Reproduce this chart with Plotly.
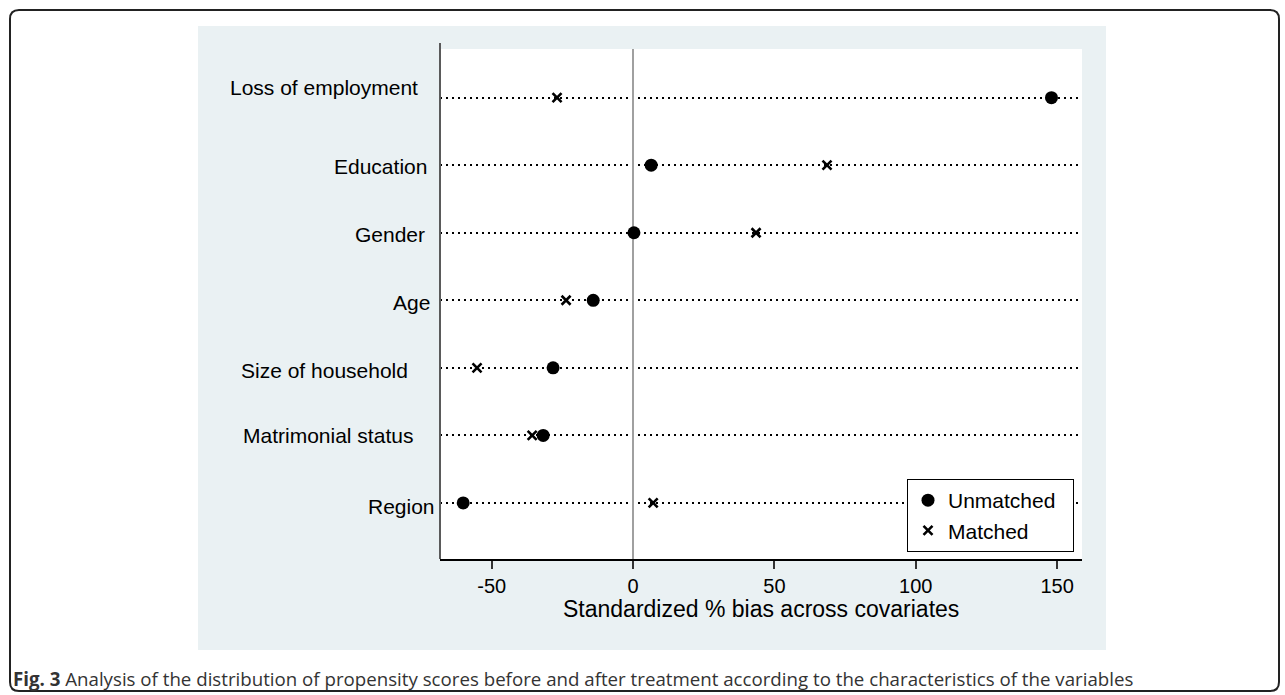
import plotly.graph_objects as go

# Covariates, listed top to bottom
covariates = [
    "Loss of employment",
    "Education",
    "Gender",
    "Age",
    "Size of household",
    "Matrimonial status",
    "Region",
]
# Standardized % bias before matching
unmatched = [148.0, 6.4, 0.3, -14.1, -28.3, -31.8, -60.1]
# Standardized % bias after matching
matched = [-26.9, 68.6, 43.5, -23.7, -55.2, -35.7, 7.1]

x_ticks = [-50, 0, 50, 100, 150]
x_tick_labels = [str(v) for v in x_ticks]
x_title = "Standardized % bias across covariates"
caption_bold = "Fig. 3"
caption_text = (" Analysis of the distribution of propensity scores before and after "
                "treatment according to the characteristics of the variables")

# Page geometry in pixels
W, H = 1285, 695
PL, PR, PT, PB = 440, 1082, 49, 559   # plot area edges
PW, PH = PR - PL, PB - PT


def px(xp):
    return (xp - PL) / PW


def py(yp):
    return (PB - yp) / PH


# Per-label nudges (x: right edge gap from the axis, y: vertical shift) in px
label_nudge = [(-20, 10), (-11, -1), (-13, -2), (-8, -2), (-30, -3), (-25, 0), (-3, -4)]

n = len(covariates)
ypos = [n - 1 - i for i in range(n)]

FONT = "Liberation Sans, Arial, Helvetica, sans-serif"

fig = go.Figure()
fig.add_trace(go.Scatter(
    x=unmatched, y=ypos, mode="markers", name="Unmatched\u00a0\u00a0",
    marker=dict(symbol="circle", size=13, color="black"),
    cliponaxis=False,
))
fig.add_trace(go.Scatter(
    x=matched, y=ypos, mode="markers", name="Matched",
    marker=dict(symbol="x-thin-open", size=9, color="black",
                line=dict(color="black", width=2.6)),
    cliponaxis=False,
))

shapes = []
# Rounded outer frame
r = 9
x0, x1, y0, y1 = 10, 1279, 10, 691
path = (
    f"M {px(x0 + r)} {py(y0)} L {px(x1 - r)} {py(y0)} "
    f"Q {px(x1)} {py(y0)} {px(x1)} {py(y0 + r)} L {px(x1)} {py(y1 - r)} "
    f"Q {px(x1)} {py(y1)} {px(x1 - r)} {py(y1)} L {px(x0 + r)} {py(y1)} "
    f"Q {px(x0)} {py(y1)} {px(x0)} {py(y1 - r)} L {px(x0)} {py(y0 + r)} "
    f"Q {px(x0)} {py(y0)} {px(x0 + r)} {py(y0)} Z"
)
shapes.append(dict(type="path", path=path, xref="paper", yref="paper",
                   line=dict(color="#222222", width=2), layer="below"))
# Graph region background
shapes.append(dict(type="rect", xref="paper", yref="paper",
                   x0=px(198), x1=px(1106), y0=py(650), y1=py(26),
                   fillcolor="#EAF1F3", line=dict(width=0), layer="below"))
# Plot region
shapes.append(dict(type="rect", xref="paper", yref="paper",
                   x0=px(PL), x1=px(PR), y0=py(PB), y1=py(PT),
                   fillcolor="white", line=dict(width=0), layer="below"))
# Left axis line (extends slightly above plot region)
shapes.append(dict(type="line", xref="paper", yref="paper",
                   x0=px(PL), x1=px(PL), y0=py(PB), y1=py(43),
                   line=dict(color="#5a5a5a", width=2), layer="above"))

annotations = [
    dict(text=x_title, xref="paper", yref="paper", x=0.5, y=py(609),
         xanchor="center", yanchor="middle", showarrow=False,
         font=dict(family=FONT, size=23, color="black")),
    dict(text=f"<b>{caption_bold}</b>{caption_text}", xref="paper", yref="paper",
         x=px(11), y=py(678), xanchor="left", yanchor="middle", showarrow=False,
         font=dict(family="Open Sans, sans-serif", size=18.7, color="#333333")),
]
# Covariate labels beside the axis
for name, yv, (dx, dy) in zip(covariates, ypos, label_nudge):
    annotations.append(dict(
        text=name, xref="paper", yref="y", x=0, y=yv,
        xanchor="right", yanchor="middle", xshift=dx, yshift=dy,
        showarrow=False, font=dict(family=FONT, size=21, color="black"),
    ))

fig.update_layout(
    width=W, height=H,
    margin=dict(l=PL, r=W - PR, t=PT, b=H - PB, autoexpand=False),
    paper_bgcolor="white",
    plot_bgcolor="rgba(0,0,0,0)",
    font=dict(family=FONT, size=20, color="black"),
    shapes=shapes,
    annotations=annotations,
    showlegend=True,
    legend=dict(
        x=px(907), y=py(552), xanchor="left", yanchor="bottom",
        bgcolor="white", bordercolor="black", borderwidth=1,
        font=dict(family=FONT, size=21, color="black"),
        itemwidth=30,
    ),
    xaxis=dict(
        range=[-68.3, 158.8], tickvals=x_ticks, ticktext=x_tick_labels,
        ticks="outside", ticklen=8, tickwidth=1.5, tickcolor="#333333",
        showline=True, linecolor="black", linewidth=1.5,
        showgrid=False,
        zeroline=True, zerolinecolor="#a0a0a0", zerolinewidth=2,
        ticklabelstandoff=0,
        tickfont=dict(family=FONT, size=20, color="black"),
        fixedrange=True,
    ),
    yaxis=dict(
        range=[-0.83, n - 1 + 0.72],
        tickvals=ypos, showticklabels=False,
        ticks="", showline=False,
        showgrid=True, gridcolor="black", gridwidth=1.5, griddash="2px,4px",
        zeroline=False,
        fixedrange=True,
    ),
)

fig.write_html("out.html")
